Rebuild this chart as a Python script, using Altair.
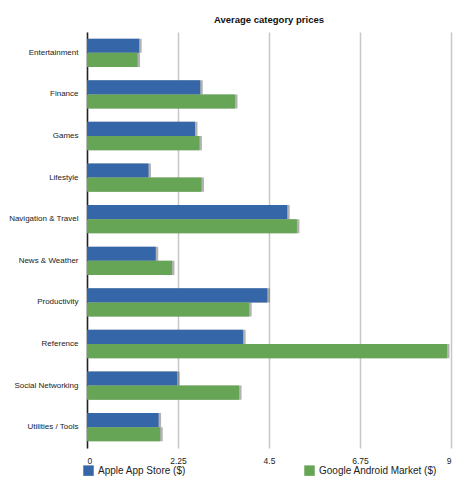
import altair as alt
import pandas as pd

categories = ["Entertainment", "Finance", "Games", "Lifestyle", "Navigation & Travel",
              "News & Weather", "Productivity", "Reference", "Social Networking", "Utilities / Tools"]
apple = [1.29, 2.80, 2.67, 1.52, 4.95, 1.70, 4.46, 3.86, 2.23, 1.77]
google = [1.25, 3.66, 2.78, 2.83, 5.19, 2.10, 4.01, 8.90, 3.76, 1.81]
series = ["Apple App Store ($)", "Google Android Market ($)"]
colors = ["#3566a8", "#66a556"]
ticks = [0, 2.25, 4.5, 6.75, 9]

rows = []
for c, a, g in zip(categories, apple, google):
    rows.append({"category": c, "series": series[0], "value": a})
    rows.append({"category": c, "series": series[1], "value": g})
df = pd.DataFrame(rows)

FONT = "Liberation Sans"

y_enc = alt.Y("category:N", sort=categories, title=None,
              scale=alt.Scale(paddingInner=0.32, paddingOuter=0.16),
              axis=alt.Axis(labelFont=FONT, labelFontSize=8, labelColor="#222",
                            ticks=False, domain=True, domainColor="#222", domainWidth=1.5,
                            labelPadding=9, grid=False))
x_enc = alt.X("value:Q", title=None,
              scale=alt.Scale(domain=[0, 9], nice=False),
              axis=alt.Axis(values=ticks, labelFont=FONT, labelFontSize=8.5, labelColor="#222",
                            ticks=False, domain=False, grid=True, gridColor="#c8c8c8",
                            gridWidth=1.5, labelPadding=8,
                            labelExpr="datum.value == 0 ? '0' : format(datum.value, '.3~f')"))
yoff = alt.YOffset("series:N", sort=series)

shadow = alt.Chart(df).mark_bar(color="#000", opacity=0.3, xOffset=2.5).encode(
    y=y_enc, x=x_enc, yOffset=yoff)

bars = alt.Chart(df).mark_bar().encode(
    y=y_enc, x=x_enc, yOffset=yoff,
    color=alt.Color("series:N", sort=series, title=None,
                    scale=alt.Scale(domain=series, range=colors),
                    legend=alt.Legend(orient="none", legendX=-4, legendY=433,
                                      direction="horizontal", columns=2, columnPadding=118,
                                      symbolType="square", symbolSize=110, symbolStrokeWidth=0,
                                      labelFont=FONT, labelFontSize=10, labelColor="#222",
                                      labelLimit=200))
)

chart = alt.layer(shadow, bars).properties(
    width=364, height=416,
    title=alt.TitleParams("Average category prices", font=FONT, fontSize=9.5,
                          fontWeight="bold", color="#111", offset=8, anchor="middle"),
    padding={"left": 0, "top": 6, "right": 5, "bottom": 5}
).configure_view(stroke=None).configure_legend(symbolOpacity=1)

chart.save("out.html", embed_options={"renderer": "svg", "actions": False})
